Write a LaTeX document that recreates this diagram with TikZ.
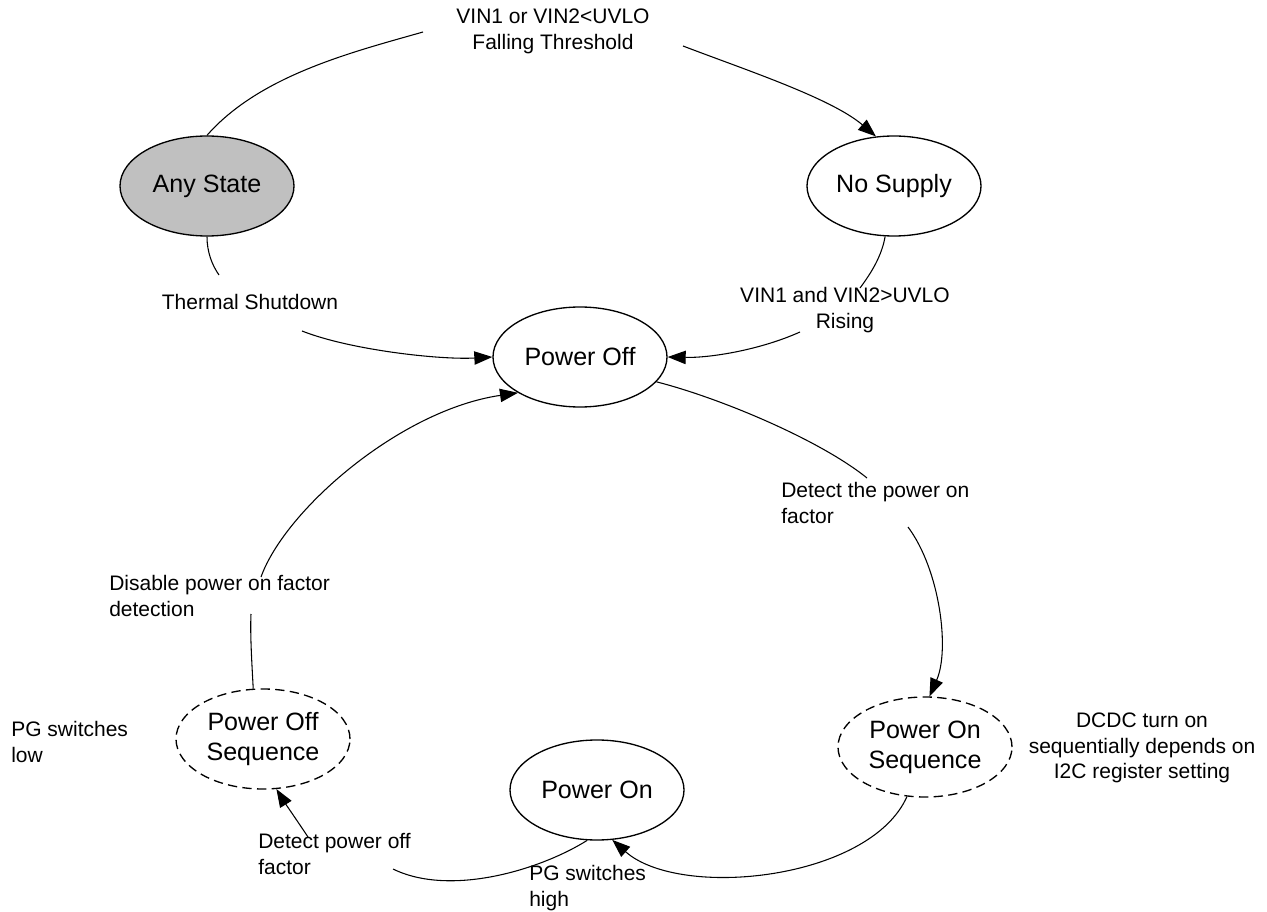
\documentclass[tikz,border=0pt]{standalone}
\usepackage{fontspec}
\setmainfont{Liberation Sans}
\usetikzlibrary{shapes.geometric,arrows.meta}
\definecolor{anygray}{HTML}{C0C0C0}
\newcommand\stfont{\fontsize{18.8}{22.5}\selectfont}
\newcommand\lbfont{\fontsize{15.75}{19.3}\selectfont}
\begin{document}
\begin{tikzpicture}[x=0.75pt,y=-0.75pt,
  state/.style={ellipse,draw,line width=1pt,minimum width=130.5pt,minimum height=75pt,inner sep=0pt,align=center,font=\stfont},
  seqstate/.style={state,dash pattern=on 7pt off 4pt},
  lbl/.style={inner sep=0pt,font=\lbfont},
  edge/.style={line width=0.8pt},
  arr/.style={edge,-{Triangle[length=13.5pt,width=10pt]}}]
\useasboundingbox (0,0) rectangle (1267,912);

% states
\node[state,fill=anygray] (any) at (207,186) {Any State};
\node[state] (nosup) at (894,186) {No Supply};
\node[state] (poff) at (580,357) {Power Off};
\node[state] (pon) at (597,790) {Power On};
\node[seqstate] (ponseq) at (925,747) {Power On\\Sequence};
\node[seqstate] (poffseq) at (263,739) {Power Off\\Sequence};

% labels
\node[lbl,align=center] (ltop) at (553,31) {VIN1 or VIN2<UVLO\\Falling Threshold};
\node[lbl] (lthermal) at (250,302) {Thermal Shutdown};
\node[lbl,align=center] (lrise) at (845,310) {VIN1 and VIN2>UVLO\\Rising};
\node[lbl,align=left,anchor=west] (lpon) at (781,503) {Detect the power on\\factor};
\node[lbl,align=left,anchor=west] (ldis) at (109,596) {Disable power on factor\\detection};
\node[lbl,align=left,anchor=west] (lpglow) at (11,742) {PG switches\\low};
\node[lbl,align=center] (ldcdc) at (1142,748) {DCDC turn on\\sequentially depends on\\I2C register setting};
\node[lbl,align=left,anchor=west] (lpoff) at (258,854) {Detect power off\\factor};
\node[lbl,align=left,anchor=west] (lpghigh) at (529,888) {PG switches\\high};

% free ends of connectors
\coordinate (t1a) at (423,32);
\coordinate (t1b) at (683,46);
\coordinate (th1) at (219,275);
\coordinate (th2) at (302,331);
\coordinate (r1) at (860,288);
\coordinate (r2) at (800,332);
\coordinate (d1) at (867,478);
\coordinate (d2) at (908,527);
\coordinate (p1) at (393,869);
\coordinate (p2) at (308,837);
\coordinate (q1) at (251,614);
\coordinate (q2) at (261,577);

% any state -> no supply
\draw[edge] (any.north) .. controls (260,75) and (353,52) .. (t1a);
\draw[arr] (t1b) .. controls (743,69) and (831,98) .. (nosup.110);
% any state -> power off (thermal shutdown)
\draw[edge] (any.south) .. controls (207,252) and (212,265) .. (th1);
\draw[arr] (th2) .. controls (350,350) and (440,360) .. (poff.west);
% no supply -> power off
\draw[edge] (nosup.-100) .. controls (882,255) and (872,272) .. (r1);
\draw[arr] (r2) .. controls (760,350) and (710,358) .. (poff.east);
% power off -> power on sequence
\draw[edge] (poff.-18) .. controls (720,398) and (820,440) .. (d1);
\draw[arr] (d2) .. controls (940,570) and (950,650) .. (ponseq.85);
% power on sequence -> power on
\draw[arr] (ponseq.-110) .. controls (870,880) and (680,900) .. (pon.-73);
% power on -> power off sequence
\draw[edge] (pon.-101) .. controls (540,870) and (450,897) .. (p1);
\draw[arr] (p2) .. controls (298,822) and (285,803) .. (poffseq.-75);
% power off sequence -> power off
\draw[edge] (poffseq.101) .. controls (252,665) and (250,635) .. (q1);
\draw[arr] (q2) .. controls (285,510) and (400,410) .. (poff.210);
\end{tikzpicture}
\end{document}
